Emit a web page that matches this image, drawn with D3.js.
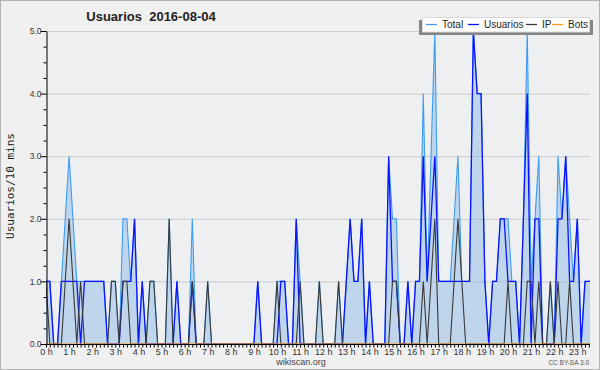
<!DOCTYPE html>
<html>
<head>
<meta charset="utf-8">
<script src="https://cdn.jsdelivr.net/npm/d3@7"></script>
<style>
body { margin:0; background:#fff; }
svg { display:block; font-family:"Liberation Sans", Arial, sans-serif; }
</style>
</head>
<body>
<div id="chart"></div>
<script>
// usuarios por 10 minutos, 144 intervalos
var total =    [1,1,0,0,1,2,3,2,1,1, 1,1,1,1,1,1,0,1,1,0, 2,2,1,2,0,1,0,1,1,0,
                0,0,2,0,1,0,0,0,2,0, 0,0,1,0,0,0,0,0,0,0, 0,0,0,0,0,1,0,0,0,0,
                1,1,1,0,0,2,1,0,0,0, 0,1,0,0,0,0,1,0,1,2, 1,1,2,0,1,0,0,0,0,3,
                2,2,0,0,1,0,1,1,4,1, 3,5,1,1,1,1,2,3,1,1, 1,5,4,4,1,0,1,1,2,2,
                2,1,1,0,2,5,1,2,3,0, 0,1,0,3,2,3,2,1,2,0, 1,1,1,1];
var usuarios = [1,1,0,0,1,1,1,1,1,0, 1,1,1,1,1,1,0,0,0,0, 1,1,1,2,0,1,0,0,0,0,
                0,0,0,0,1,0,0,0,1,0, 0,0,0,0,0,0,0,0,0,0, 0,0,0,0,0,1,0,0,0,0,
                0,1,1,0,0,2,0,0,0,0, 0,0,0,0,0,0,0,0,1,2, 1,1,2,0,1,0,0,0,0,3,
                1,1,0,0,1,0,1,1,3,1, 2,3,1,1,1,1,1,1,1,1, 1,5,4,4,1,0,1,1,2,2,
                1,1,1,0,2,4,0,2,2,0, 0,0,0,2,2,3,1,1,2,0, 1,1,1,1];
var ip =       [1,0,0,0,0,1,2,1,0,1, 0,0,0,0,0,0,0,1,1,0, 1,1,0,0,0,0,0,1,1,0,
                0,0,2,0,0,0,0,0,1,0, 0,0,1,0,0,0,0,0,0,0, 0,0,0,0,0,0,0,0,0,0,
                1,0,0,0,0,0,1,0,0,0, 0,1,0,0,0,0,1,0,0,0, 0,0,0,0,0,0,0,0,0,0,
                1,1,0,0,0,0,0,0,1,0, 1,2,0,0,0,0,1,2,1,0, 0,0,0,0,0,0,0,0,0,0,
                1,0,0,0,0,1,1,0,1,0, 0,1,0,1,0,0,1,0,0,0, 0,0,0,0];
var bots = total.map(function(){ return 0; });
var hourLabels = d3.range(24).map(function(h){ return h + " h"; });
var yTicks = [0, 1, 2, 3, 4, 5];

var series = [
    { name:"Total",    values: total,    color:"#3d9cf0", width:1.1 },
    { name:"Usuarios", values: usuarios, color:"#0a14ff", width:1.3 },
    { name:"IP",       values: ip,       color:"#3a3a3a", width:1.1 },
    { name:"Bots",     values: bots,     color:"#ff9a1a", width:1.1 }
];

function draw(){
    var W = 600, H = 370;
    var pLeft = 46, pRight = 590, pTop = 31, pBottom = 344;

    var svg = d3.select("#chart").append("svg").attr("width", W).attr("height", H);

    svg.append("rect").attr("x",0.5).attr("y",0.5).attr("width",W-1).attr("height",H-1)
        .attr("fill","#f0f0f0").attr("stroke","#b4b4b4");
    svg.append("rect").attr("x",pLeft).attr("y",pTop).attr("width",pRight-pLeft).attr("height",pBottom-pTop)
        .attr("fill","#eeeff1");

    var x = d3.scaleLinear().domain([0, 143]).range([pLeft, pLeft + 143 * 3.85]);
    var y = d3.scaleLinear().domain([0, 5]).range([pBottom, pTop]);

    svg.append("clipPath").attr("id","plot").append("rect")
        .attr("x",pLeft).attr("y",pTop-2).attr("width",pRight-pLeft).attr("height",pBottom-pTop+2);

    // grid
    svg.append("g").selectAll("line").data(yTicks.slice(1)).enter().append("line")
        .attr("x1",pLeft).attr("x2",pRight)
        .attr("y1",function(d){ return y(d) + 0.5; }).attr("y2",function(d){ return y(d) + 0.5; })
        .attr("stroke","#cccccc").attr("stroke-width",1);

    var plot = svg.append("g").attr("clip-path","url(#plot)");

    var area = d3.area().x(function(d,i){ return x(i); }).y0(y(0)).y1(function(d){ return y(d); });
    plot.append("path").datum(total).attr("d",area)
        .attr("fill","rgb(120,175,230)").attr("fill-opacity",0.4);

    var line = d3.line().x(function(d,i){ return x(i); }).y(function(d){ return y(d); });
    series.forEach(function(s){
        plot.append("path").datum(s.values).attr("d",line)
            .attr("fill","none").attr("stroke",s.color).attr("stroke-width",s.width);
    });

    // y axis
    var yAxis = d3.axisLeft(y).tickValues(d3.range(0, 5.01, 0.25)).tickSize(3).tickSizeOuter(0)
        .tickFormat(function(d){ return d % 1 === 0 ? d3.format(".1f")(d) : ""; });
    var gy = svg.append("g").attr("transform","translate(" + (pLeft + 0.5) + ",0)").call(yAxis);
    gy.select(".domain").attr("stroke","#000");
    gy.selectAll(".tick line").attr("stroke","#000")
        .attr("x2",function(d){ return d % 1 === 0 ? -6 : -3; });
    gy.selectAll(".tick text").attr("x",-5).attr("font-size","8.5px").attr("fill","#333")
        .attr("font-family","Liberation Sans, Arial, sans-serif");

    // x axis
    var xAxis = d3.axisBottom(x).tickValues(d3.range(0, 142)).tickSize(3).tickSizeOuter(0)
        .tickFormat(function(d){ return d % 6 === 0 ? hourLabels[d / 6] : ""; });
    var gx = svg.append("g").attr("transform","translate(0," + (pBottom + 0.5) + ")").call(xAxis);
    gx.select(".domain").attr("stroke","#000").attr("d","M" + pLeft + ",0H" + pRight);
    gx.selectAll(".tick line").attr("stroke","#000");
    gx.selectAll(".tick text").attr("y",4).attr("font-size","9px").attr("fill","#333")
        .attr("font-family","Liberation Sans, Arial, sans-serif");

    // title
    svg.append("text").attr("x",151).attr("y",21).attr("text-anchor","middle")
        .attr("font-size","13px").attr("font-weight","bold").attr("fill","#222")
        .attr("xml:space","preserve").text("Usuarios  2016-08-04");

    svg.append("text").attr("transform","translate(14,186) rotate(-90)").attr("text-anchor","middle")
        .attr("font-family","DejaVu Sans Mono, monospace").attr("font-size","11px").attr("fill","#222")
        .text("Usuarios/10 mins");

    // legend
    svg.append("rect").attr("x",419).attr("y",20).attr("width",174).attr("height",15).attr("fill","#858585");
    svg.append("rect").attr("x",422.5).attr("y",17.5).attr("width",167).attr("height",14.5)
        .attr("fill","#ffffff").attr("stroke","#d8d8d8");
    var legendX = [426, 468, 526, 552];
    series.forEach(function(s, i){
        svg.append("line").attr("x1",legendX[i]).attr("x2",legendX[i] + 11)
            .attr("y1",24.5).attr("y2",24.5).attr("stroke",s.color).attr("stroke-width",1.3);
        svg.append("text").attr("x",legendX[i] + 16).attr("y",28).attr("font-size","10px")
            .attr("fill","#222").text(s.name);
    });

    svg.append("text").attr("x",301).attr("y",365).attr("text-anchor","middle")
        .attr("font-size","9px").attr("fill","#444").text("wikiscan.org");
    svg.append("text").attr("x",589).attr("y",365).attr("text-anchor","end")
        .attr("font-size","6.5px").attr("fill","#555").text("CC BY-SA 3.0");
}

draw();
</script>
</body>
</html>
